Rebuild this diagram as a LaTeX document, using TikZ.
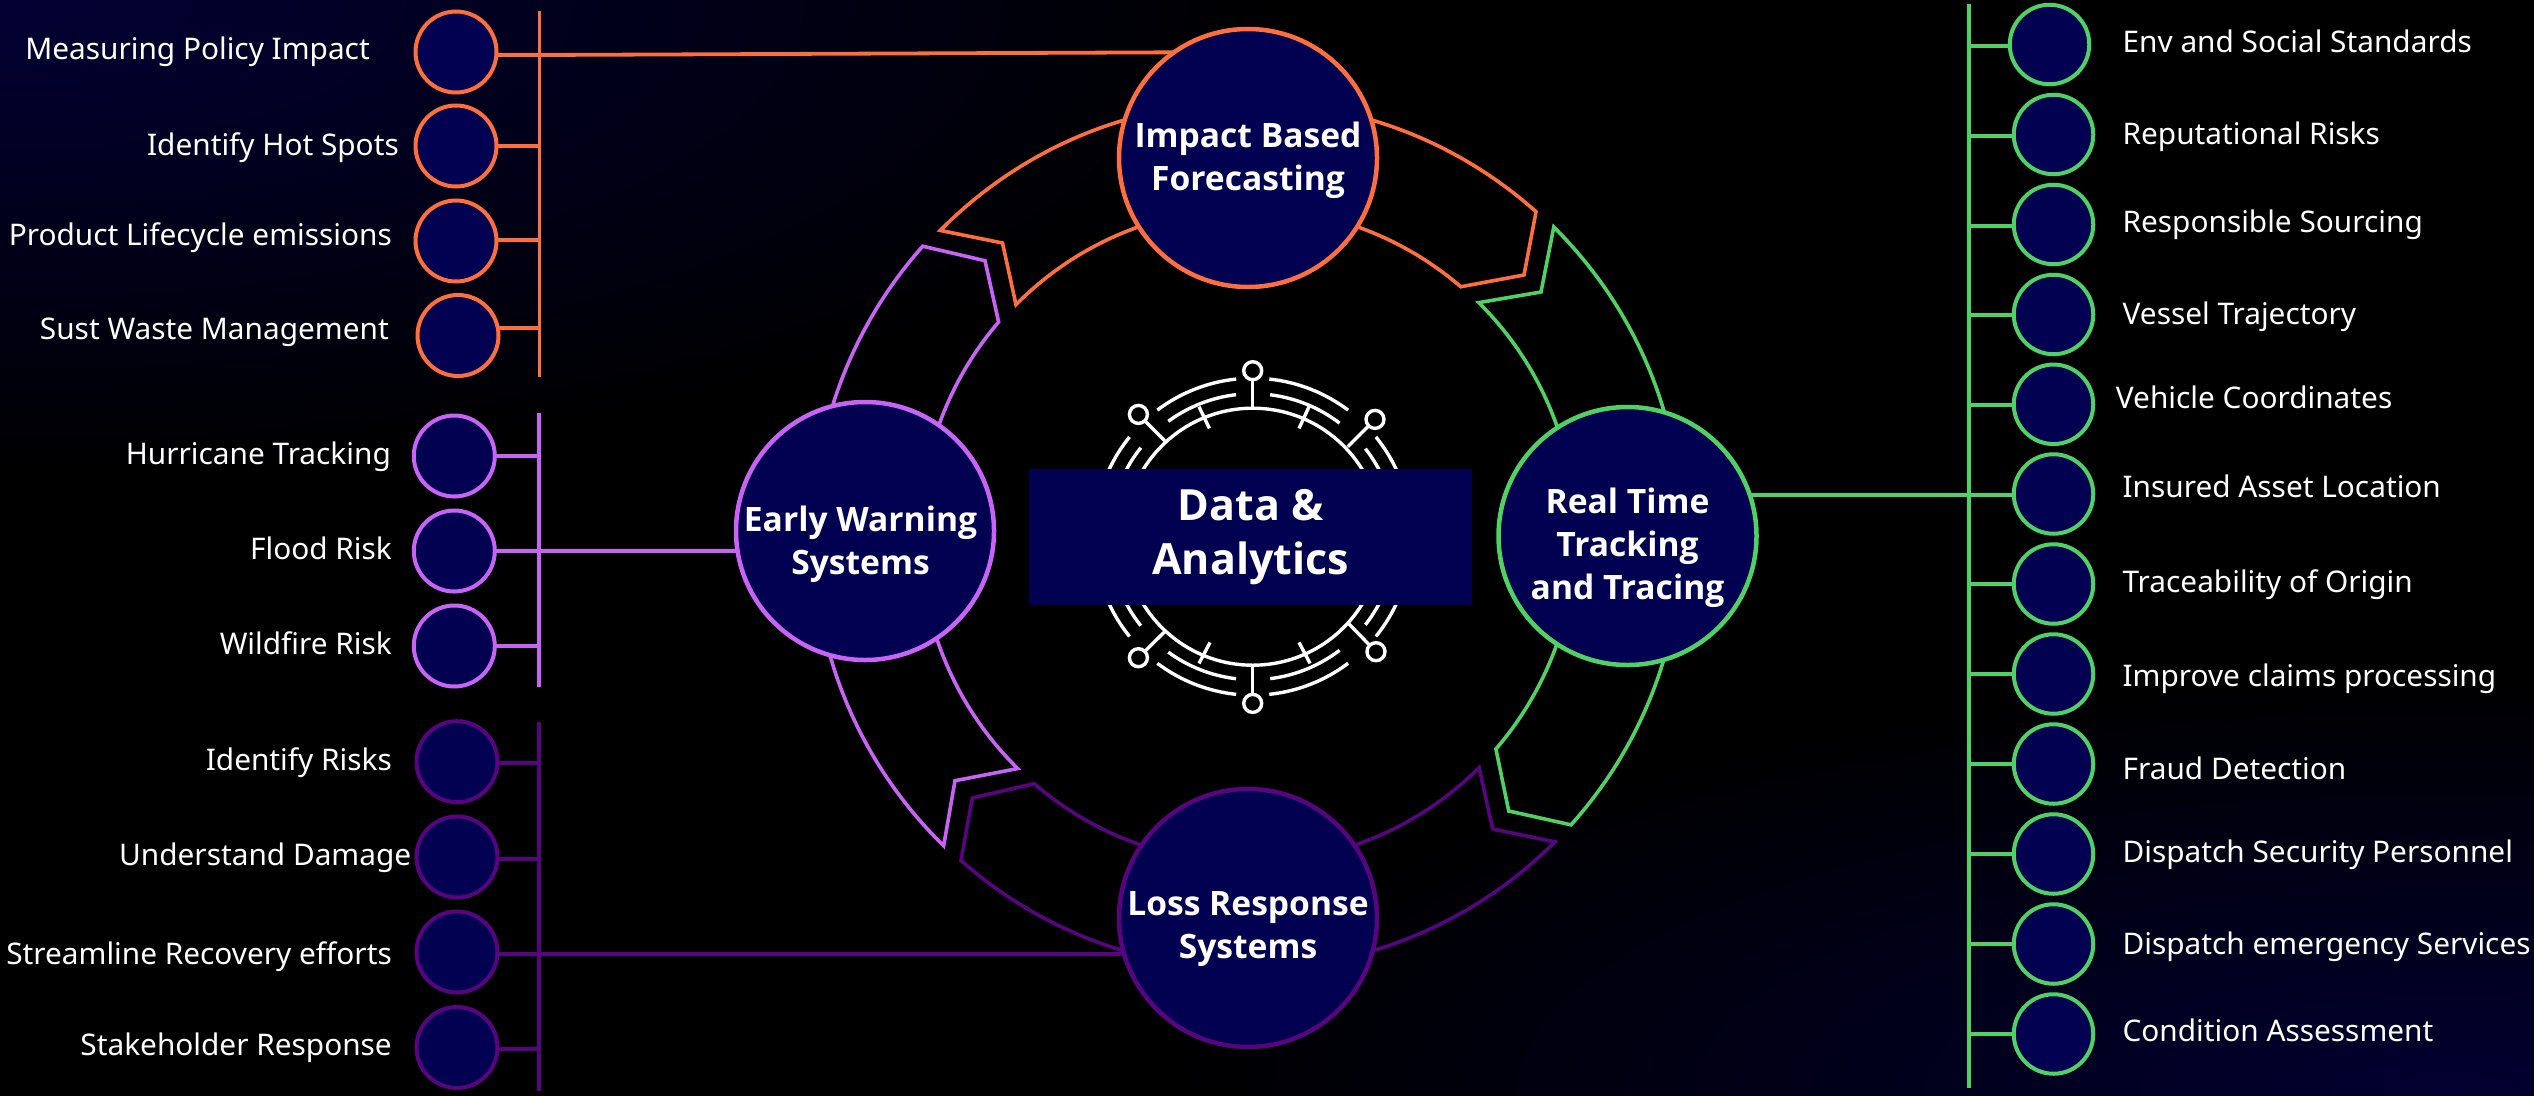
\documentclass[tikz,border=0pt]{standalone}
\usepackage{fontspec}
\setmainfont{Noto Sans}
\newfontfamily\heavyf{Open Sans}
\definecolor{orangeC}{HTML}{FF6F3E}
\definecolor{violetC}{HTML}{C864F5}
\definecolor{plumC}{HTML}{57057F}
\definecolor{greenC}{HTML}{4FD164}
\definecolor{navyC}{HTML}{020050}
\pgfdeclarelayer{back}
\pgfdeclarelayer{mid}
\pgfsetlayers{back,mid,main}
\tikzset{
  smallc/.style={circle,draw=#1,fill=navyC,line width=4pt,inner sep=0pt,minimum size=81pt},
  tinyc/.style={circle,draw=#1,fill=navyC,line width=4pt,inner sep=0pt,minimum size=79.5pt},
  bigc/.style={circle,draw=#1,fill=navyC,line width=4.5pt,inner sep=0pt,minimum size=258pt},
  conn/.style={draw=#1,line width=3.8pt},
  band/.style={draw=#1,line width=3.6pt,line join=miter,miter limit=20},
  lbl/.style={text=white,inner sep=0pt,font=\fontsize{29.8}{35}\selectfont},
  bigt/.style={text=white,inner sep=0pt,align=center,font=\heavyf\fontsize{33.6}{43}\selectfont\bfseries},
  icon/.style={draw=white,line width=3.4pt},
}
\begin{document}
\begin{tikzpicture}[x=1pt,y=1pt]
\useasboundingbox (0,0) rectangle (2534,-1095);
\begin{pgfonlayer}{back}
\fill[black] (-6,6) rectangle (2540,-1101);
\begin{scope}
\clip (-6,6) rectangle (2540,-1101);
\shade[inner color=navyC!115!blue!95!black,outer color=black] (0,0) ellipse [x radius=1300,y radius=480];
\shade[inner color=navyC!60!black,outer color=black] (2450,-1095) ellipse [x radius=1300,y radius=420];
\end{scope}
\begin{scope}[shift={(1248,-535)}]
\draw[band=orangeC] (135.3:433) arc[start angle=135.3,end angle=48.3,radius=433pt] -- (276,260) -- (49.4:327) arc[start angle=49.4,end angle=135.2,radius=327pt] -- (-245.5,292) -- cycle;
\draw[band=greenC] (45.2:434) arc[start angle=45.2,end angle=-41.9,radius=434pt] -- (260.7,-276) -- (-40.8:327.5) arc[start angle=-40.8,end angle=45.2,radius=327.5pt] -- (293,243) -- cycle;
\draw[band=plumC] (-45:434) arc[start angle=-45,end angle=-131.4,radius=434pt] -- (-275.7,-263) -- (-130.7:328) arc[start angle=-130.7,end angle=-45.2,radius=328pt] -- (244.7,-294) -- cycle;
\draw[band=violetC] (225.6:435) arc[start angle=225.6,end angle=138.4,radius=435pt] -- (-263,274.3) -- (139.5:328) arc[start angle=139.5,end angle=225.4,radius=328pt] -- (-293,-245.7) -- cycle;
\end{scope}
\end{pgfonlayer}

% central icon
\begin{scope}[shift={(1252.7,-536.7)}]
\draw[icon] (0,0) circle[radius=128.5];
\foreach \ra/\aa/\ab in {158.5/96/127,158.5/84/53,158.5/141/219,158.5/39/-39,158.5/-96/-127,158.5/-84/-53,
                         143/96.7/126.2,143/83/52.6,143/141.5/218.5,143/38/-38,143/-96.7/-126.2,143/-83/-52.6}
  {\draw[icon] (\aa:\ra) arc[start angle=\aa,end angle=\ab,radius=\ra pt];}
\foreach \px/\py/\qx/\qy in {0/166/0/128,-114.3/122.3/-88/96,122.3/117.3/95/90,-114.3/-121/-88/-95,123.3/-115/96/-87,0/-166.7/0/-128}
  {\draw[icon] (\px,\py) -- (\qx,\qy);
   \fill[black] (\px,\py) circle[radius=9];
   \draw[icon] (\px,\py) circle[radius=9];}
\foreach \px/\py/\qx/\qy in {-53.7/130/-43.3/108.3,56.3/130/46.3/108.3,-42.7/-105.7/-53.7/-126.7,46.3/-105.7/57.3/-126.7}
  {\draw[icon] (\px,\py) -- (\qx,\qy);}
\end{scope}

% big circles
\node[bigc=orangeC] (top) at (1248,-158) {};
\node[bigc=violetC] (lft) at (865,-531) {};
\node[bigc=greenC] (rgt) at (1627.5,-536) {};
\node[bigc=plumC] (bot) at (1248,-918) {};
\node[bigt] (topt) at (1248,-160.5) {Impact Based\\Forecasting};
\node[bigt] (lftt) at (860.5,-544) {Early Warning\\Systems};
\node[bigt] (rgtt) at (1627.5,-547.7) {Real Time\\Tracking\\and Tracing};
\node[bigt] (bott) at (1248,-929.5) {Loss Response\\Systems};

% centre panel
\node[fill=navyC,minimum width=443pt,minimum height=136pt,inner sep=0pt,text=white,align=center,font=\heavyf\fontsize{43}{54}\selectfont\bfseries] (core) at (1250.5,-537) {Data \&\\Analytics};

% side circles with connectors
\foreach \n/\cx/\cy/\ly in {a1/456/52/55,a2/456/146/146,a3/456/241/240,a4/458/335.5/328}{
  \node[smallc=orangeC] (\n) at (\cx,-\cy) {};
  \begin{pgfonlayer}{mid}
  \coordinate (\n b) at (539.5,-\ly);
  \draw[conn=orangeC] (\n b -| \n) -- (\n b);
  \end{pgfonlayer}}
\foreach \n/\cy/\ly in {b1/456/455.7,b2/551/550.7,b3/646/646.3}{
  \node[smallc=violetC] (\n) at (454.3,-\cy) {};
  \begin{pgfonlayer}{mid}
  \coordinate (\n b) at (539,-\ly);
  \draw[conn=violetC] (\n b -| \n) -- (\n b);
  \end{pgfonlayer}}
\foreach \n/\cy/\ly in {c1/761.7/763,c2/857/859,c3/952/954,c4/1047.5/1049}{
  \node[smallc=plumC] (\n) at (457,-\cy) {};
  \begin{pgfonlayer}{mid}
  \coordinate (\n b) at (539,-\ly);
  \draw[conn=plumC] (\n b -| \n) -- (\n b);
  \end{pgfonlayer}}
\foreach \n/\cx/\cy/\ly in {d1/2049.5/44.5/45.7,d2/2053.5/134.5/135.7,d3/2053.5/224.5/225.7,d4/2053.5/314.5/315,d5/2053.5/404.3/405,d6/2053.5/494/495,d7/2053.5/584/584,d8/2053.5/674/674,d9/2053.5/764/764,d10/2053.5/854/854,d11/2053.5/944/943.7,d12/2053.5/1034/1033.7}{
  \node[tinyc=greenC] (\n) at (\cx,-\cy) {};
  \begin{pgfonlayer}{mid}
  \coordinate (\n b) at (1968.6,-\ly);
  \draw[conn=greenC] (\n b -| \n) -- (\n b);
  \end{pgfonlayer}}

\begin{pgfonlayer}{mid}
% rails
\coordinate (ra1) at (539.5,-11); \coordinate (ra2) at (539.5,-377);
\coordinate (rb1) at (539,-413); \coordinate (rb2) at (539,-687);
\coordinate (rc1) at (539,-722); \coordinate (rc2) at (539,-1091);
\coordinate (rd1) at (1968.6,-4); \coordinate (rd2) at (1968.6,-1088);
\draw[conn=orangeC] (ra1) -- (ra2);
\draw[conn=violetC] (rb1) -- (rb2);
\draw[conn=plumC] (rc1) -- (rc2);
\draw[conn=greenC] (rd1) -- (rd2);
% trunk connectors
\coordinate (tt) at (1248,-52);
\draw[conn=orangeC] (a1b) -- (tt);
\draw[conn=violetC] (b2b) -- (b2b -| lft);
\draw[conn=plumC] (c3b) -- (c3b -| bot);
\draw[conn=greenC] (d6b) -- (d6b -| rgt);
\end{pgfonlayer}

% left labels
\foreach \n/\x/\y/\t in {la1/370/59/Measuring Policy Impact,la2/399/155.7/Identify Hot Spots,la3/392/245/Product Lifecycle emissions,la4/389/339/Sust Waste Management,
  lb1/391/464/Hurricane Tracking,lb2/392/559/Flood Risk,lb3/392/654/Wildfire Risk,
  lc1/392/770.7/Identify Risks,lc2/411.4/865.7/Understand Damage,lc3/392/964/Streamline Recovery efforts,lc4/392/1055/Stakeholder Response}
  {\node[lbl,anchor=base east] (\n) at (\x,-\y) {\t};}
% right labels
\foreach \n/\x/\y/\t in {ld1/2122.4/52/Env and Social Standards,ld2/2122.4/144/Reputational Risks,ld3/2122.4/232/Responsible Sourcing,ld4/2122.4/324/Vessel Trajectory,ld5/2115.7/408/Vehicle Coordinates,ld6/2122.4/497/Insured Asset Location,ld7/2122.4/592/Traceability of Origin,ld8/2122.4/686/Improve claims processing,ld9/2122.4/779/Fraud Detection,ld10/2122.4/862/Dispatch Security Personnel,ld11/2122.4/954/Dispatch emergency Services,ld12/2122.4/1041/Condition Assessment}
  {\node[lbl,anchor=base west] (\n) at (\x,-\y) {\t};}
\end{tikzpicture}
\end{document}
